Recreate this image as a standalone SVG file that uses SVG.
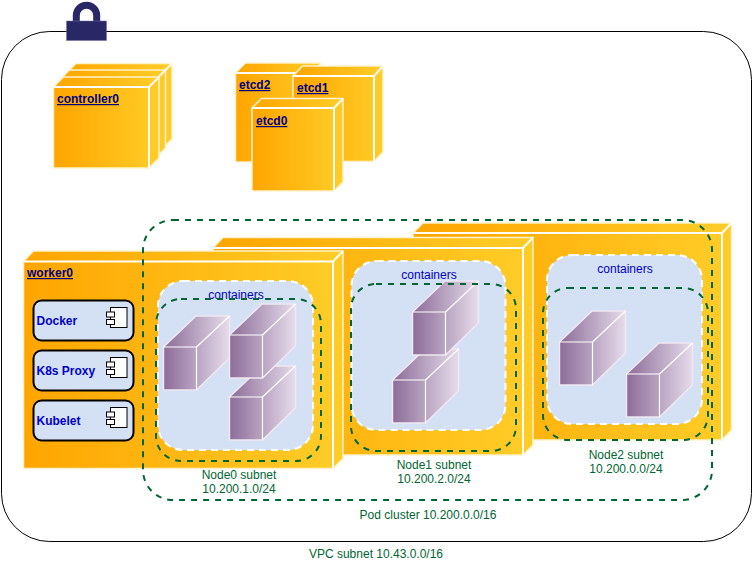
<svg xmlns="http://www.w3.org/2000/svg" xmlns:xlink="http://www.w3.org/1999/xlink" width="753" height="562" viewBox="0 0 753 562">
<style>
text{font-family:"Liberation Sans",Arial,sans-serif;font-size:12px}
.o{fill:url(#og);stroke:#FFF2CC;stroke-width:1.500}
.ol{fill:none;stroke:#FFFDF5;stroke-width:2}
.p{fill:url(#pg);stroke:#F0E8F2;stroke-width:1.500}
.pl{fill:none;stroke:#FFFFFF;stroke-width:1.200}
.lnk{font-weight:bold;fill:#000080;text-decoration:underline}
.ct{fill:#0000CC;text-anchor:middle}
.gt{fill:#006633;text-anchor:middle}
.cb{fill:#D4E1F5;stroke:#FFFFFF;stroke-width:2;stroke-dasharray:7 5}
.sn{fill:none;stroke:#006633;stroke-width:2;stroke-dasharray:6 6}
.comp{fill:#D4E1F5;stroke:#000;stroke-width:2}
.cl{font-weight:bold;fill:#0000CC}
.ic{fill:#fff;stroke:#000;stroke-width:1}
</style>
<defs>
<linearGradient id="og" x1="0" x2="1" y1="0" y2="0"><stop offset="0" stop-color="#FFA500"/><stop offset="1" stop-color="#FFCD28"/></linearGradient>
<linearGradient id="pg" x1="0" x2="1" y1="0" y2="0"><stop offset="0" stop-color="#8C6C98"/><stop offset="1" stop-color="#E6DCEB"/></linearGradient>
<g id="box"><path class="p" d="M0 43V0L32.500-31H66V11L33 43Z"/><path class="pl" d="M0 0H33V43M33 0L66-31"/></g>
<g id="icon"><rect class="ic" x="4" y="0" width="16.500" height="20"/><rect class="ic" x="0" y="4.500" width="8" height="5"/><rect class="ic" x="0" y="12" width="8" height="5"/></g>
</defs>
<rect id="vpc" x="1.500" y="31.500" width="750" height="510" rx="48" ry="48" fill="#fff" stroke="#000" stroke-width="1"/>
<g id="lock"><path d="M76.300 22V15.500A10.200 10.200 0 0 1 96.700 15.500V22" fill="none" stroke="#2A2766" stroke-width="7"/><rect x="66.500" y="21" width="40" height="19.500" fill="#2A2766" stroke="#6C6A9C" stroke-width="0.500"/></g>
<g id="controller2"><path class="o" d="M66 73.500L76 63.500H172V139L162 149H66Z"/><path class="ol" d="M66 73.500H162V149M162 73.500L172 63.500"/></g>
<g id="controller1"><path class="o" d="M59.500 80L69.500 70H165.500V148L155.500 158H59.500Z"/><path class="ol" d="M59.500 80H155.500V158M155.500 80L165.500 70"/></g>
<g id="controller0"><path class="o" d="M53.500 87L63.500 77H159V158L149 168H53.500Z"/><path class="ol" d="M53.500 87H149V168M149 87L159 77"/><text class="lnk" x="57" y="103">controller0</text></g>
<g id="etcd2"><path class="o" d="M235.500 73L245.500 63H322V152L312 162H235.500Z"/><path class="ol" d="M235.500 73H312V162M312 73L322 63"/><text class="lnk" x="239" y="89">etcd2</text></g>
<g id="etcd1"><path class="o" d="M293 76L302.500 66H383V152L374 161.500H293Z"/><path class="ol" d="M293 76H374V161.500M374 76L383 66"/><text class="lnk" x="297" y="92">etcd1</text></g>
<g id="etcd0"><path class="o" d="M252 108L261.500 98.500H343V182L334 191H252Z"/><path class="ol" d="M252 108H334V191M334 108L343 98.500"/><text class="lnk" x="256" y="125">etcd0</text></g>
<g id="worker2"><path class="o" d="M413 233L423 223H731.500V430L722 440H413Z"/><path class="ol" d="M413 233H722V440M722 233L731.500 223"/>
<rect class="cb" x="547" y="255" width="155" height="169" rx="25" ry="25"/><text class="ct" x="625" y="273">containers</text>
<use xlink:href="#box" href="#box" x="559.500" y="342"/><use xlink:href="#box" href="#box" x="626.500" y="374"/></g>
<g id="worker1"><path class="o" d="M213 248L223 237.500H533V445L523 455H213Z"/><path class="ol" d="M213 248H523V455M523 248L533 237.500"/>
<rect class="cb" x="351.500" y="261" width="154" height="169" rx="25" ry="25"/><text class="ct" x="429" y="279">containers</text>
<use xlink:href="#box" href="#box" x="392.500" y="380"/><use xlink:href="#box" href="#box" x="412.500" y="312"/></g>
<g id="worker0"><path class="o" d="M23.500 261.500L33.500 251H343V458.500L333 468.500H23.500Z"/><path class="ol" d="M23.500 261.500H333V468.500M333 261.500L343 251"/>
<text class="lnk" x="27" y="277">worker0</text>
<rect class="cb" x="158" y="281" width="155" height="169" rx="25" ry="25"/><text class="ct" x="236" y="299">containers</text>
<use xlink:href="#box" href="#box" x="163.500" y="347"/><use xlink:href="#box" href="#box" x="229.500" y="397"/><use xlink:href="#box" href="#box" x="229.500" y="335"/></g>
<g id="docker"><rect class="comp" x="33.500" y="300.500" width="100" height="40" rx="8" ry="8"/><text class="cl" x="36.500" y="325">Docker</text><use xlink:href="#icon" href="#icon" x="106.500" y="307.500"/></g>
<g id="k8s-proxy"><rect class="comp" x="33.500" y="350.500" width="100" height="40" rx="8" ry="8"/><text class="cl" x="36.500" y="375">K8s Proxy</text><use xlink:href="#icon" href="#icon" x="106.500" y="357.500"/></g>
<g id="kubelet"><rect class="comp" x="33.500" y="400.500" width="100" height="40" rx="8" ry="8"/><text class="cl" x="36.500" y="425">Kubelet</text><use xlink:href="#icon" href="#icon" x="106.500" y="407.500"/></g>
<g id="connectors"></g>
<g id="subnets">
<rect class="sn" x="156" y="299" width="165" height="162" rx="25" ry="25"/>
<rect class="sn" x="351" y="284" width="165" height="167" rx="25" ry="25"/>
<rect class="sn" x="543" y="288" width="165" height="152" rx="25" ry="25"/>
<rect class="sn" x="143" y="220" width="569" height="280" rx="30" ry="30"/>
</g>
<g id="labels">
<text class="gt" x="239" y="479">Node0 subnet</text><text class="gt" x="239" y="493">10.200.1.0/24</text>
<text class="gt" x="434" y="469">Node1 subnet</text><text class="gt" x="434" y="483">10.200.2.0/24</text>
<text class="gt" x="626" y="459">Node2 subnet</text><text class="gt" x="626" y="473">10.200.0.0/24</text>
<text class="gt" x="428" y="519">Pod cluster 10.200.0.0/16</text>
<text class="gt" x="376" y="558">VPC subnet 10.43.0.0/16</text>
</g>
</svg>
